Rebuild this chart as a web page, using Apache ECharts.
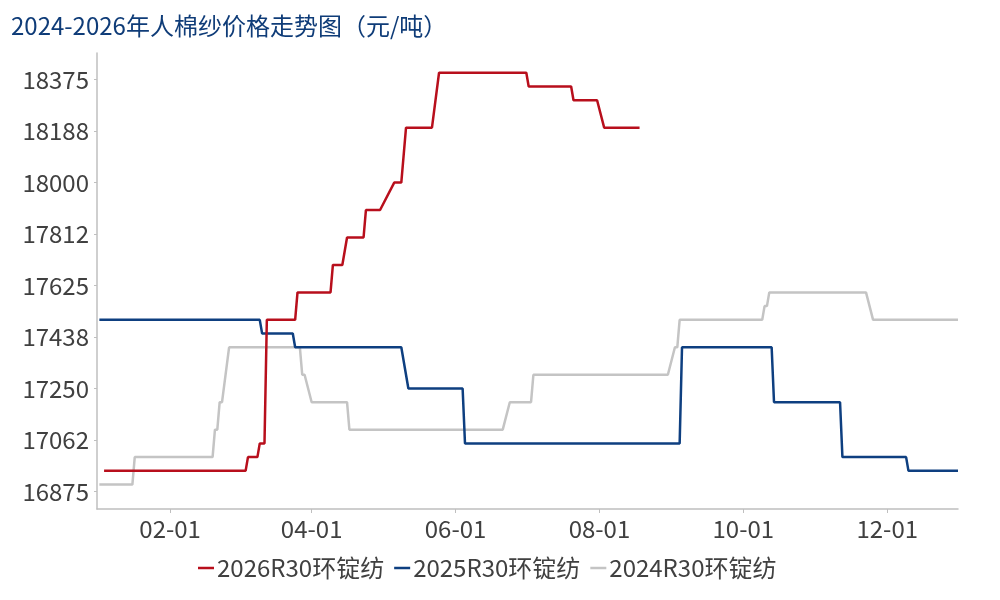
<!DOCTYPE html>
<html>
<head>
<meta charset="utf-8">
<script src="https://cdn.jsdelivr.net/npm/echarts@6/dist/echarts.min.js"></script>
<style>
html,body{margin:0;padding:0;background:#fff;}
#chart{width:1000px;height:600px;}
</style>
</head>
<body>
<div id="chart"></div>
<script>
// Series names
const seriesNames = ['2026R30环锭纺', '2025R30环锭纺', '2024R30环锭纺'];

// 2026 breakpoints (month-day) and prices (元/吨)
const dates2026 = ['01-04','03-04','03-05','03-09','03-10','03-12','03-13','03-25','03-26','04-09','04-10','04-14','04-16','04-23','04-24','04-30','05-06','05-09','05-11','05-22','05-25','07-01','07-02','07-20','07-21','07-31','08-03','08-18'];
const values2026 = [16950,16950,17000,17000,17050,17050,17500,17500,17600,17600,17700,17700,17800,17800,17900,17900,18000,18000,18200,18200,18400,18400,18350,18350,18300,18300,18200,18200];

// 2025
const dates2025 = ['01-02','03-10','03-11','03-24','03-25','05-09','05-12','06-04','06-05','09-04','09-05','10-13','10-14','11-11','11-12','12-09','12-10','12-31'];
const values2025 = [17500,17500,17450,17450,17400,17400,17250,17250,17050,17050,17400,17400,17200,17200,17000,17000,16950,16950];

// 2024
const dates2024 = ['01-02','01-16','01-17','02-19','02-20','02-21','02-22','02-23','02-26','03-27','03-28','03-29','04-01','04-16','04-17','06-21','06-24','07-03','07-04','08-30','09-02','09-03','09-04','10-09','10-10','10-11','10-12','11-22','11-25','12-31'];
const values2024 = [16900,16900,17000,17000,17100,17100,17200,17200,17400,17400,17300,17300,17200,17200,17100,17100,17200,17200,17300,17300,17400,17400,17500,17500,17550,17550,17600,17600,17500,17500];

// Axis ticks
const xTickDates = ['02-01','04-01','06-01','08-01','10-01','12-01'];
const yTickValues = [16875,17062.5,17250,17437.5,17625,17812.5,18000,18187.5,18375];
const yTickLabels = ['16875','17062','17250','17438','17625','17812','18000','18188','18375'];

const colors = ['#B80F1C', '#0E3F80', '#C4C4C4'];
const BASE_YEAR = 2024; // common leap-year calendar for the month-day axis
const DAY = 86400000;
// day index within the year (Jan 1 = 0)
function dayIdx(md){ const [m,d] = md.split('-').map(Number); return Math.round((Date.UTC(BASE_YEAR, m-1, d) - Date.UTC(BASE_YEAR, 0, 1)) / DAY); }
function pairs(ds, vs){ return ds.map((d,i)=>[dayIdx(d), vs[i]]); }

const font = 'Noto Sans CJK SC';
const chart = echarts.init(document.getElementById('chart'));
const xTicks = xTickDates.map(dayIdx);

chart.setOption({
  animation: false,
  textStyle: { fontFamily: font },
  title: {
    text: '2024-2026年人棉纱价格走势图（元/吨）',
    left: 11, top: 14, padding: 0,
    textStyle: { fontFamily: font, fontSize: 24, fontWeight: 'normal', color: '#0F3C78' }
  },
  legend: {
    data: seriesNames,
    left: 198, top: 556, padding: 0,
    icon: 'rect', itemWidth: 16, itemHeight: 2.5, itemGap: 10,
    textStyle: { fontFamily: font, fontSize: 24, color: '#404040', padding: [0,0,0,-2] }
  },
  grid: { left: 97, right: 42, top: 53, bottom: 91, containLabel: false },
  xAxis: {
    type: 'value',
    min: dayIdx('01-01'), max: dayIdx('12-31'),
    axisLine: { show: true, lineStyle: { color: '#BFBFBF', width: 1.5 } },
    axisTick: { show: true, customValues: xTicks, length: 4, lineStyle: { color: '#BFBFBF' } },
    axisLabel: {
      customValues: xTicks,
      fontFamily: font, fontSize: 24, color: '#404040', margin: 8,
      formatter: function(v){ const i = xTicks.indexOf(v); return i >= 0 ? xTickDates[i] : ''; }
    },
    splitLine: { show: false }
  },
  yAxis: {
    type: 'value',
    min: 16811, max: 18472,
    axisLine: { show: true, lineStyle: { color: '#BFBFBF', width: 1.5 } },
    axisTick: { show: true, customValues: yTickValues, length: 3, lineStyle: { color: '#BFBFBF' } },
    axisLabel: {
      customValues: yTickValues,
      fontFamily: font, fontSize: 24, color: '#404040', margin: 8,
      formatter: function(v){ const i = yTickValues.indexOf(v); return i >= 0 ? yTickLabels[i] : ''; }
    },
    splitLine: { show: false }
  },
  series: [
    { name: seriesNames[0], type: 'line', data: pairs(dates2026, values2026), symbol: 'none', z: 4,
      itemStyle: { color: colors[0] }, lineStyle: { color: colors[0], width: 2.5 } },
    { name: seriesNames[1], type: 'line', data: pairs(dates2025, values2025), symbol: 'none', z: 3,
      itemStyle: { color: colors[1] }, lineStyle: { color: colors[1], width: 2.5 } },
    { name: seriesNames[2], type: 'line', data: pairs(dates2024, values2024), symbol: 'none', z: 2,
      itemStyle: { color: colors[2] }, lineStyle: { color: colors[2], width: 2.5 } }
  ]
});
</script>
</body>
</html>
